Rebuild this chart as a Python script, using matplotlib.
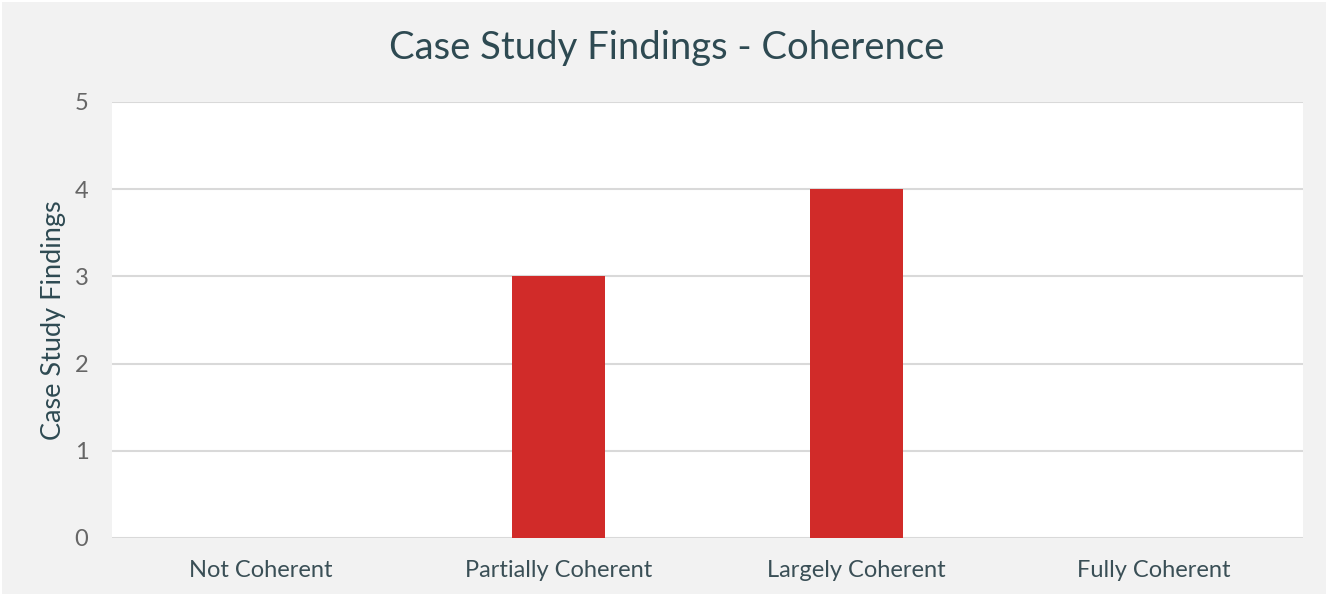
import matplotlib
matplotlib.use("Agg")
import matplotlib.pyplot as plt
from matplotlib.patches import Rectangle

categories = ["Not Coherent", "Partially Coherent", "Largely Coherent", "Fully Coherent"]
values = [0, 3, 4, 0]
yticks = [0, 1, 2, 3, 4, 5]

plt.rcParams['font.family'] = ['Lato', 'DejaVu Sans']

fig = plt.figure(figsize=(13.3, 5.97), dpi=100)
fig.patch.set_facecolor('white')
fig.patches.append(Rectangle((2/1330, 3/597), 1324/1330, 592/597, transform=fig.transFigure,
                             facecolor='#F2F2F2', edgecolor='none', zorder=-10))

ax = fig.add_axes([112/1330, 1-538/597, (1303-112)/1330, (538-102)/597])
ax.set_facecolor('white')
x = list(range(len(categories)))
ax.bar(x, values, width=0.312, color='#D12B29', zorder=3)
ax.set_xlim(-0.5, len(categories)-0.5)
ax.set_ylim(0, 5)
ax.set_yticks(yticks)
ax.set_xticks(x)
ax.set_xticklabels(categories, fontsize=17, color='#3A4F56')
ax.tick_params(axis='y', labelsize=17, labelcolor='#666666', length=0, pad=17)
ax.tick_params(axis='x', length=0, pad=16)
ax.grid(axis='y', color='#D9D9D9', linewidth=1.5, zorder=0)
for s in ax.spines.values():
    s.set_visible(False)
ax.set_ylabel("Case Study Findings", fontsize=19.5, color='#2E4A52')
ax.yaxis.set_label_coords((66-112)/(1303-112), 0.5)
fig.text(667/1330, 1-48/597, "Case Study Findings - Coherence", ha='center', va='center',
         fontsize=27.5, color='#2E4A52')

fig.savefig("out.png", dpi=100, facecolor=fig.get_facecolor())
